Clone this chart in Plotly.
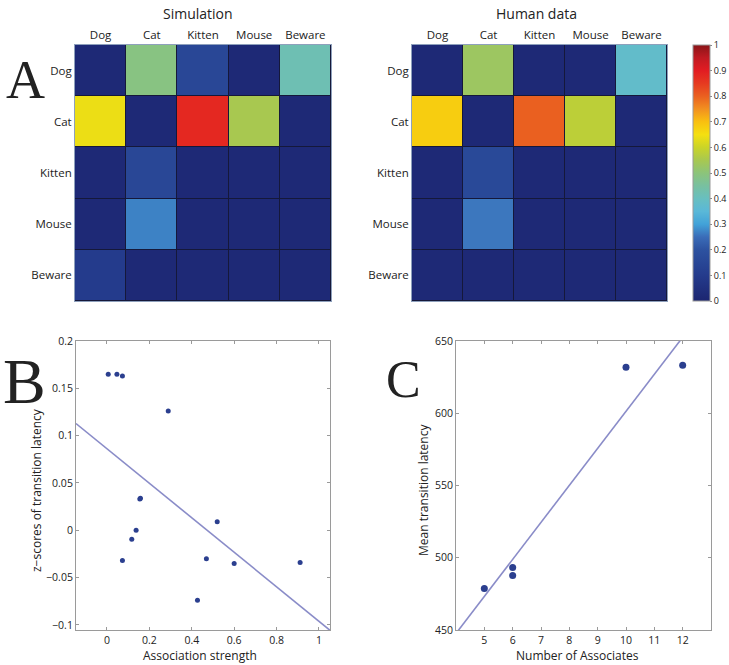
import numpy as np
import plotly.graph_objects as go

W, H = 729, 665

# ---------------- data ----------------
words = ["Dog", "Cat", "Kitten", "Mouse", "Beware"]

sim_dog = [0.02, 0.49, 0.15, 0.02, 0.42]
sim_cat = [0.64, 0.02, 0.88, 0.55, 0.02]
sim_kitten = [0.02, 0.15, 0.02, 0.02, 0.02]
sim_mouse = [0.02, 0.27, 0.02, 0.02, 0.02]
sim_beware = [0.10, 0.02, 0.02, 0.02, 0.02]

hum_dog = [0.02, 0.53, 0.02, 0.02, 0.38]
hum_cat = [0.68, 0.02, 0.80, 0.58, 0.02]
hum_kitten = [0.02, 0.16, 0.02, 0.02, 0.02]
hum_mouse = [0.02, 0.26, 0.02, 0.02, 0.02]
hum_beware = [0.02, 0.02, 0.02, 0.02, 0.02]

assoc_strength = [0.006, 0.047, 0.073, 0.289, 0.155, 0.158, 0.1375, 0.117,
                  0.073, 0.52, 0.469, 0.427, 0.60, 0.911]
z_latency = [0.165, 0.165, 0.163, 0.126, 0.033, 0.034, 0.000, -0.0095,
             -0.032, 0.009, -0.030, -0.074, -0.035, -0.034]

n_associates = [5, 6, 6, 10, 12]
mean_latency = [478.8, 493.3, 487.8, 631.8, 633.2]

cbar_ticks = [0, 0.1, 0.2, 0.3, 0.4, 0.5, 0.6, 0.7, 0.8, 0.9, 1]

# muted "jet" colormap as printed
cmap = [
    [0.00, "#1c2570"], [0.10, "#243b8c"], [0.20, "#2d52a0"], [0.25, "#3a6cb8"],
    [0.30, "#42a2d8"], [0.35, "#5ab8d8"], [0.40, "#68bfc0"], [0.45, "#78c0a0"],
    [0.50, "#8cc47a"], [0.55, "#a8c850"], [0.60, "#cad428"], [0.65, "#f5e010"],
    [0.70, "#f9c010"], [0.75, "#f29020"], [0.80, "#ea6020"], [0.85, "#e63a20"],
    [0.90, "#e21c22"], [0.95, "#c01a22"], [1.00, "#8a1518"],
]

sim = [sim_dog, sim_cat, sim_kitten, sim_mouse, sim_beware]
hum = [hum_dog, hum_cat, hum_kitten, hum_mouse, hum_beware]

def px_x(a, b):
    return [a / W, b / W]

def px_y(top, bottom):
    return [1 - bottom / H, 1 - top / H]

FONT = "Open Sans"
fig = go.Figure()

fig.add_trace(go.Heatmap(z=sim, x=words, y=words, coloraxis="coloraxis",
                         xgap=1, ygap=1, xaxis="x", yaxis="y", hoverinfo="skip"))
fig.add_trace(go.Heatmap(z=hum, x=words, y=words, coloraxis="coloraxis",
                         xgap=1, ygap=1, xaxis="x2", yaxis="y2", hoverinfo="skip"))

# Panel B
bx_range = [-0.146, 1.052]
pb = np.polyfit(assoc_strength, z_latency, 1)
fig.add_trace(go.Scatter(x=bx_range, y=np.polyval(pb, bx_range), mode="lines",
                         line=dict(color="#8a8cc8", width=1.6), xaxis="x3", yaxis="y3",
                         showlegend=False))
fig.add_trace(go.Scatter(x=assoc_strength, y=z_latency, mode="markers",
                         marker=dict(color="#2b3f8f", size=5), xaxis="x3", yaxis="y3",
                         showlegend=False))

# Panel C
cx_range = [4.0, 13.0]
pc = np.polyfit(n_associates, mean_latency, 1)
fig.add_trace(go.Scatter(x=cx_range, y=np.polyval(pc, cx_range), mode="lines",
                         line=dict(color="#8a8cc8", width=1.6), xaxis="x4", yaxis="y4",
                         showlegend=False))
fig.add_trace(go.Scatter(x=n_associates, y=mean_latency, mode="markers",
                         marker=dict(color="#2b3f8f", size=7), xaxis="x4", yaxis="y4",
                         showlegend=False))

axis_common = dict(showline=True, linecolor="#9a9a9a", linewidth=1, mirror="ticks",
                   ticks="inside", ticklen=3, tickcolor="#9a9a9a", showgrid=False,
                   zeroline=False, automargin=False,
                   tickfont=dict(family=FONT, size=10.5, color="#222"))

hm_x = dict(showline=True, linecolor="#8ea0bc", linewidth=1, mirror=True, side="top",
            ticks="", showgrid=False, zeroline=False, fixedrange=True, automargin=False,
            tickfont=dict(family=FONT, size=11.5, color="#222"))
hm_y = dict(showline=True, linecolor="#8ea0bc", linewidth=1, mirror=True,
            ticks="", showgrid=False, zeroline=False, autorange="reversed", automargin=False,
            tickfont=dict(family=FONT, size=11.5, color="#222"))

fig.update_layout(
    width=W, height=H, margin=dict(l=0, r=0, t=0, b=0, autoexpand=False),
    paper_bgcolor="white", plot_bgcolor="white", showlegend=False,
    font=dict(family=FONT, color="#222"),
    coloraxis=dict(
        colorscale=cmap, cmin=0, cmax=1,
        colorbar=dict(x=693 / W, xanchor="left", xpad=0, ypad=0, thickness=17,
                      len=256 / H, lenmode="fraction", y=1 - 173 / H, yanchor="middle",
                      tickvals=cbar_ticks, ticktext=[f"{t:g}" for t in cbar_ticks],
                      ticks="outside", ticklen=2, tickcolor="#888",
                      tickfont=dict(family=FONT, size=9, color="#222"),
                      outlinewidth=1, outlinecolor="#999"),
    ),
    xaxis=dict(domain=px_x(75, 331), anchor="y", **hm_x),
    yaxis=dict(domain=px_y(45, 301), anchor="x", **hm_y),
    xaxis2=dict(domain=px_x(412, 667), anchor="y2", **hm_x),
    yaxis2=dict(domain=px_y(45, 301), anchor="x2", **hm_y),
    xaxis3=dict(domain=px_x(76, 330), anchor="y3", range=bx_range,
                tickvals=[0, 0.2, 0.4, 0.6, 0.8, 1], **axis_common),
    yaxis3=dict(domain=px_y(341, 630), anchor="x3", range=[-0.1053, 0.2],
                tickvals=[-0.1, -0.05, 0, 0.05, 0.1, 0.15, 0.2], **axis_common),
    xaxis4=dict(domain=px_x(456, 711), anchor="y4", range=cx_range,
                tickvals=[5, 6, 7, 8, 9, 10, 11, 12], **axis_common),
    yaxis4=dict(domain=px_y(341, 630), anchor="x4", range=[450, 650],
                tickvals=[450, 500, 550, 600, 650], **axis_common),
)

# dark background for cell borders
for xr, yr in (("x domain", "y domain"), ("x2 domain", "y2 domain")):
    fig.add_shape(type="rect", xref=xr, yref=yr, x0=0, x1=1, y0=0, y1=1,
                  fillcolor="#15183a", line=dict(width=0), layer="below")

def ann(text, x, y, size, family=FONT, angle=0, xanchor="center"):
    fig.add_annotation(text=text, x=x / W, y=1 - y / H, xref="paper", yref="paper",
                       showarrow=False, textangle=angle, xanchor=xanchor, yanchor="middle",
                       font=dict(family=family, size=size, color="#222"))

ann("Simulation", 198, 14, 14)
ann("Human data", 536, 14, 14)
ann("Association strength", 200, 655, 12)
ann("Number of Associates", 577, 655, 12)
ann("z−scores of transition latency", 36, 490, 12, angle=-90)
ann("Mean transition latency", 423, 490, 12, angle=-90)

SERIF = "Liberation Serif"
ann("A", 25, 80, 54, family=SERIF)
ann("B", 24, 382, 64, family=SERIF)
ann("C", 403, 379, 52, family=SERIF)

fig.write_html("out.html", config={"displayModeBar": False},
               post_script="document.body.style.margin='0';document.body.style.overflow='hidden';")
